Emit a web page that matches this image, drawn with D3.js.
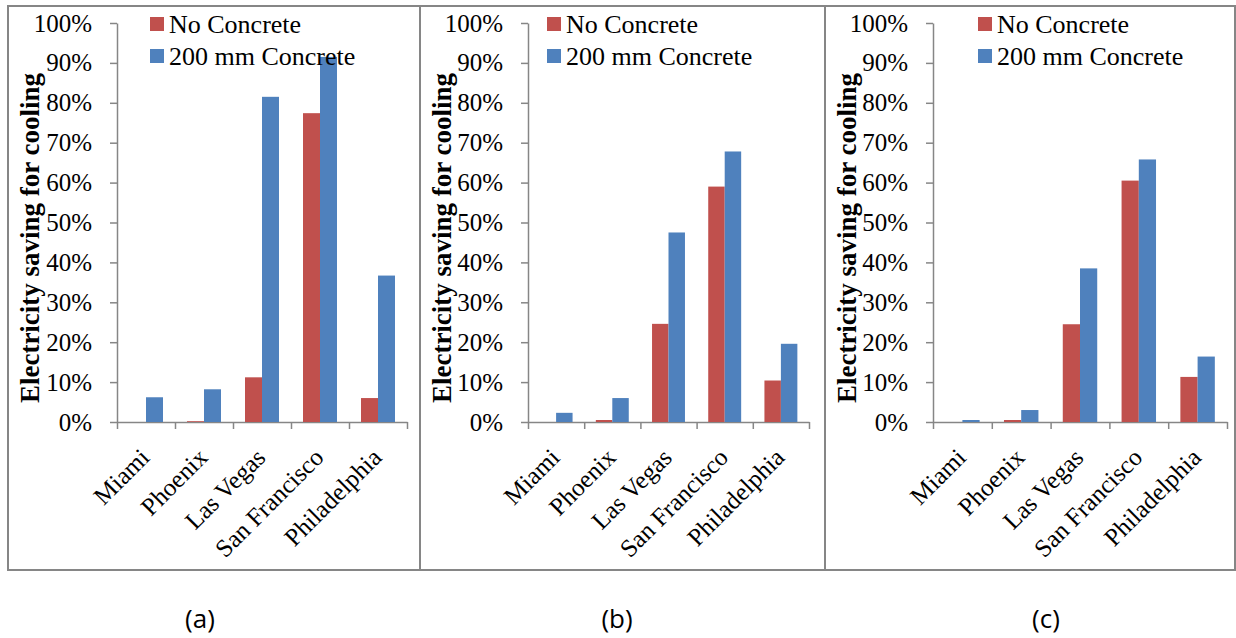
<!DOCTYPE html>
<html>
<head>
<meta charset="utf-8">
<script src="https://cdn.jsdelivr.net/npm/d3@7"></script>
<style>
  body { margin: 0; background: #fff; }
  svg { display: block; }
</style>
</head>
<body>
<div id="chart"></div>
<script>
// data (percent)
const cities = ["Miami", "Phoenix", "Las Vegas", "San Francisco", "Philadelphia"];
const seriesNames = ["No Concrete", "200 mm Concrete"];
const seriesColors = ["#C0504D", "#4F81BD"];
const yTicks = [0, 10, 20, 30, 40, 50, 60, 70, 80, 90, 100];
const captions = ["(a)", "(b)", "(c)"];
const yTitle = "Electricity saving for cooling";

const noConcreteA = [0, 0.2, 11.2, 77.4, 6.0];
const concreteA = [6.2, 8.2, 81.5, 91.5, 36.7];
const noConcreteB = [0, 0.5, 24.6, 59.0, 10.4];
const concreteB = [2.3, 6.0, 47.5, 67.8, 19.6];
const noConcreteC = [0, 0.5, 24.5, 60.5, 11.3];
const concreteC = [0.5, 3.0, 38.5, 65.8, 16.4];

const panelData = [
  [noConcreteA, concreteA],
  [noConcreteB, concreteB],
  [noConcreteC, concreteC]
];

// layout of the three frames
const panels = [
  {left: 8, right: 420, axisX0: 117, axisX1: 407, legendX: 150, captionX: 200},
  {left: 420, right: 825, axisX0: 528, axisX1: 809, legendX: 547, captionX: 617},
  {left: 825, right: 1235, axisX0: 933, axisX1: 1227, legendX: 978, captionX: 1046}
];
const frameTop = 6, frameBottom = 570;
const plotTop = 23, plotBottom = 422;
const axisColor = "#868686";
const serif = "'Liberation Serif', 'Times New Roman', Times, serif";

const svg = d3.select("#chart").append("svg")
  .attr("width", 1236)
  .attr("height", 638);

panels.forEach((p, i) => {
  const g = svg.append("g");

  // frame
  g.append("rect")
    .attr("x", p.left)
    .attr("y", frameTop)
    .attr("width", p.right - p.left)
    .attr("height", frameBottom - frameTop)
    .attr("fill", "none")
    .attr("stroke", axisColor)
    .attr("stroke-width", 2);

  const y = d3.scaleLinear().domain([0, 100]).range([plotBottom, plotTop]);
  const x = d3.scaleBand().domain(cities).range([p.axisX0, p.axisX1]).padding(0);
  const xIdx = d3.scaleLinear().domain([0, cities.length]).range([p.axisX0, p.axisX1]);
  const bw = x.bandwidth();
  const x1 = d3.scaleBand().domain(seriesNames).range([bw * 0.207, bw * 0.793]).padding(0);

  // y axis
  const yAxis = g.append("g")
    .attr("transform", `translate(${p.axisX0},0)`)
    .call(d3.axisLeft(y).tickValues(yTicks).tickSize(7).tickSizeOuter(0).tickPadding(18)
      .tickFormat(d => d + "%"));
  yAxis.attr("font-family", serif).attr("font-size", 25);
  yAxis.selectAll("text")
    .attr("fill", "#000")
    .style("font-family", serif)
    .style("font-size", "25px");

  // x axis ticks between categories
  const xAxis = g.append("g")
    .attr("transform", `translate(0,${plotBottom})`)
    .call(d3.axisBottom(xIdx).tickValues(d3.range(cities.length + 1)).tickSize(7).tickSizeOuter(0).tickFormat(""));

  [yAxis, xAxis].forEach(a => {
    a.select(".domain").attr("stroke", axisColor).attr("stroke-width", 1.5);
    a.selectAll(".tick line").attr("stroke", axisColor).attr("stroke-width", 1.5);
  });

  // category labels
  const labels = g.append("g")
    .attr("transform", `translate(0,${plotBottom})`)
    .call(d3.axisBottom(x).tickSize(0).tickPadding(0));
  labels.select(".domain").remove();
  labels.attr("font-family", serif);
  labels.selectAll("text")
    .attr("fill", "#000")
    .style("font-family", serif)
    .style("font-size", "25px")
    .attr("text-anchor", "end")
    .attr("dy", 0)
    .attr("transform", "translate(5,37) rotate(-45)");

  // bars
  seriesNames.forEach((s, si) => {
    g.append("g").selectAll("rect")
      .data(panelData[i][si])
      .join("rect")
      .attr("x", (d, ci) => x(cities[ci]) + x1(s))
      .attr("y", d => y(d))
      .attr("width", x1.bandwidth())
      .attr("height", d => plotBottom - y(d))
      .attr("fill", seriesColors[si]);
  });

  // y axis title
  g.append("text")
    .attr("transform", `translate(${p.left + 22},238) rotate(-90)`)
    .attr("text-anchor", "middle")
    .attr("dy", "0.35em")
    .style("font-family", serif)
    .style("font-weight", "bold")
    .style("font-size", "27px")
    .text(yTitle);

  // legend
  const legend = g.append("g");
  seriesNames.forEach((s, si) => {
    const ly = 17 + si * 32;
    legend.append("rect")
      .attr("x", p.legendX)
      .attr("y", ly)
      .attr("width", 14)
      .attr("height", 14)
      .attr("fill", seriesColors[si]);
    legend.append("text")
      .attr("x", p.legendX + 19)
      .attr("y", ly + 16)
      .style("font-family", serif)
      .style("font-size", "26px")
      .text(s);
  });

  // caption
  svg.append("text")
    .attr("x", p.captionX)
    .attr("y", 628)
    .attr("text-anchor", "middle")
    .style("font-family", "'Open Sans', 'Liberation Sans', sans-serif")
    .style("font-size", "26px")
    .text(captions[i]);
});
</script>
</body>
</html>
